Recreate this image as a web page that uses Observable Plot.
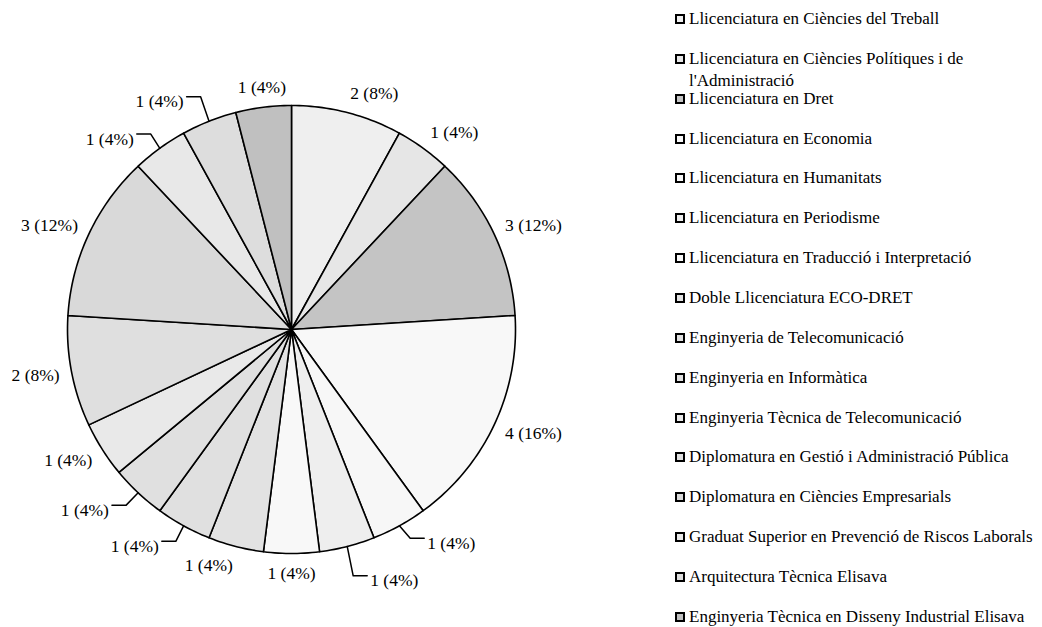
<!DOCTYPE html>
<html><head><meta charset="utf-8">
<script src="https://cdn.jsdelivr.net/npm/d3@7"></script>
<script src="https://cdn.jsdelivr.net/npm/@observablehq/plot@0.6"></script>
<style>
body{margin:0;background:#fff;}
#wrap{position:relative;width:1042px;height:627px;overflow:hidden;background:#fff;font-family:"Liberation Serif","Times New Roman",serif;}
#chart{position:absolute;left:0;top:0;}
.item{position:absolute;left:675px;width:365px;font-size:17px;line-height:22px;color:#000;}
.sw{position:absolute;left:0;top:6px;width:6px;height:6px;border:2px solid #000;}
.txt{position:absolute;left:14px;top:0;width:345px;}
</style></head>
<body><div id="wrap"><div id="chart"></div><div id="legend"></div></div>
<script>
const categories = [
  "Llicenciatura en Ciències del Treball",
  "Llicenciatura en Ciències Polítiques i de l'Administració",
  "Llicenciatura en Dret",
  "Llicenciatura en Economia",
  "Llicenciatura en Humanitats",
  "Llicenciatura en Periodisme",
  "Llicenciatura en Traducció i Interpretació",
  "Doble Llicenciatura ECO-DRET",
  "Enginyeria de Telecomunicació",
  "Enginyeria en Informàtica",
  "Enginyeria Tècnica de Telecomunicació",
  "Diplomatura en Gestió i Administració Pública",
  "Diplomatura en Ciències Empresarials",
  "Graduat Superior en Prevenció de Riscos Laborals",
  "Arquitectura Tècnica Elisava",
  "Enginyeria Tècnica en Disseny Industrial Elisava"
];
const counts = [2, 1, 3, 4, 1, 1, 1, 1, 1, 1, 1, 2, 3, 1, 1, 1];
const grays = ["#efefef","#e6e6e6","#c4c4c4","#f8f8f8","#f7f7f7","#eeeeee","#f8f8f8","#e2e2e2",
               "#e0e0e0","#e0e0e0","#e9e9e9","#dfdfdf","#d9d9d9","#e8e8e8","#dddddd","#c0c0c0"];

// label nudges (pixels) for labels that Excel moved and joined with leader lines
const labelNudge = {
  "Llicenciatura en Humanitats": [22, 0],
  "Llicenciatura en Periodisme": [20, 15],
  "Enginyeria de Telecomunicació": [-19, 3],
  "Enginyeria en Informàtica": [-21, 3],
  "Graduat Superior en Prevenció de Riscos Laborals": [-19, 7],
  "Arquitectura Tècnica Elisava": [-21, -1]
};

const RADIUS_PX = 224;
const PX = 1 / RADIUS_PX;
const total = d3.sum(counts);
let cum = 0;
const slices = categories.map((c, i) => {
  const a0 = cum / total * 2 * Math.PI; cum += counts[i];
  const a1 = cum / total * 2 * Math.PI;
  return {c, v: counts[i], a0, a1, mid: (a0 + a1) / 2};
});

const piePts = slices.flatMap(s => {
  const pts = [{c: s.c, x: 0, y: 0}];
  const n = Math.max(2, Math.ceil((s.a1 - s.a0) / (Math.PI / 180)));
  for (let k = 0; k <= n; k++) {
    const t = s.a0 + (s.a1 - s.a0) * k / n;
    pts.push({c: s.c, x: Math.sin(t), y: Math.cos(t)});
  }
  pts.push({c: s.c, x: 0, y: 0});
  return pts;
});

const labels = slices.map(s => {
  const sn = Math.sin(s.mid), cs = Math.cos(s.mid);
  const anchor = sn > 0.15 ? "start" : sn < -0.15 ? "end" : "middle";
  const [nx, ny] = labelNudge[s.c] || [0, 0];
  const rr = 1 + 12 * PX;
  const x = sn * rr + nx * PX;
  const y = cs * rr + cs * 8 * PX - ny * PX;
  return {c: s.c, x, y, anchor, text: `${s.v} (${Math.round(s.v / total * 100)}%)`, sn, cs, nudged: !!labelNudge[s.c]};
});

const leaders = labels.filter(l => l.nudged).flatMap(l => {
  const sgn = l.anchor === "start" ? 1 : -1;
  const ly = l.y + 5 * PX;
  return [
    {c: l.c, x: l.sn, y: l.cs},
    {c: l.c, x: l.x - sgn * 17 * PX, y: ly},
    {c: l.c, x: l.x - sgn * 3 * PX, y: ly}
  ];
});

const font = '"Liberation Serif","Times New Roman",serif';
const textMark = a => Plot.text(labels.filter(l => l.anchor === a), {
  x: "x", y: "y", text: "text", textAnchor: a, lineAnchor: "middle",
  fontSize: 17.5, fill: "#000", fontFamily: font
});

const chart = Plot.plot({
  width: 1042, height: 627,
  marginLeft: 67, marginRight: 1042 - 515, marginTop: 105, marginBottom: 627 - 553,
  x: {domain: [-1, 1], axis: null},
  y: {domain: [-1, 1], axis: null},
  color: {type: "ordinal", domain: categories, range: grays},
  style: {background: "transparent", fontFamily: font, overflow: "visible"},
  marks: [
    Plot.line(piePts, {x: "x", y: "y", z: "c", fill: "c", stroke: "#000", strokeWidth: 1.6, strokeLinejoin: "round"}),
    Plot.line(leaders, {x: "x", y: "y", z: "c", stroke: "#000", strokeWidth: 1.5, fill: "none"}),
    textMark("start"), textMark("end"), textMark("middle")
  ]
});
document.getElementById("chart").appendChild(chart);

const legend = document.getElementById("legend");
categories.forEach((c, i) => {
  const item = document.createElement("div");
  item.className = "item";
  item.style.top = (19 + 39.85 * i - 11) + "px";
  const sw = document.createElement("div");
  sw.className = "sw";
  sw.style.background = grays[i];
  const t = document.createElement("div");
  t.className = "txt";
  t.textContent = c;
  item.appendChild(sw); item.appendChild(t);
  legend.appendChild(item);
});
</script>
</body></html>
